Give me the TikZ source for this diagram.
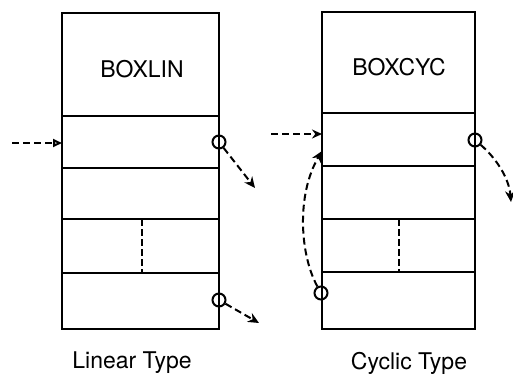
\documentclass[tikz,border=0pt]{standalone}
\usepackage{fontspec}
\setmainfont{TeX Gyre Heros}
\usetikzlibrary{arrows.meta}
\begin{document}
\begin{tikzpicture}[x=1pt,y=-1pt,
  frame/.style={line width=2.2pt},
  divider/.style={line width=2pt, dash pattern=on 7pt off 3pt},
  link/.style={line width=2pt, dash pattern=on 7pt off 4pt},
  ring/.style={circle, draw, line width=2pt, minimum size=13pt, inner sep=0pt},
  title/.style={font=\fontsize{23}{27}\selectfont},
  caption/.style={font=\fontsize{23}{27}\selectfont}]
\useasboundingbox (0,0) rectangle (513,386);

% ---- linear type ----
\draw[frame] (62,13) rectangle (219,329);
\draw[frame] (62,116) -- (219,116);
\draw[frame] (62,168) -- (219,168);
\draw[frame] (62,219) -- (219,219);
\draw[frame] (62,273) -- (219,273);
\draw[divider] (142,219) -- (142,273);
\node[title] (lname) at (142,69) {BOXLIN};

\coordinate (lin) at (12,143);
\coordinate (lentry) at (62,143);
\draw[link, -{Triangle[open, length=9pt, width=8pt]}] (lin) -- (lentry);

\node[ring] (la) at (219,142) {};
\node[ring] (lb) at (219,300) {};
\coordinate (laout) at (255,188);
\coordinate (lbout) at (259,323);
\draw[link, -{Stealth[length=11pt, width=10pt]}] (la) -- (laout);
\draw[link, -{Stealth[length=11pt, width=10pt]}] (lb) -- (lbout);

\node[caption] (lcap) at (132,363) {Linear Type};

% ---- cyclic type ----
\draw[frame] (322,12) rectangle (475,329);
\draw[frame] (322,113) -- (475,113);
\draw[frame] (322,166) -- (475,166);
\draw[frame] (322,219) -- (475,219);
\draw[frame] (322,272) -- (475,272);
\draw[divider] (399,219) -- (399,272);
\node[title] (cname) at (399,67) {BOXCYC};

\coordinate (cin) at (271,134);
\coordinate (centry) at (322,134);
\draw[link, -{Stealth[length=10pt, width=9pt]}] (cin) -- (centry);

\node[ring] (cr) at (475,140) {};
\node[ring] (cb) at (321,293) {};
\coordinate (crout) at (511,202);
\coordinate (cback) at (322,151);
\draw[link, -{Stealth[length=11pt, width=10pt]}] (cr) .. controls (496,158) and (509,178) .. (crout);
\draw[link, -{Stealth[length=11pt, width=10pt]}] (cb) .. controls (300,255) and (296,195) .. (cback);

\node[caption] (ccap) at (409,363) {Cyclic Type};
\end{tikzpicture}
\end{document}
